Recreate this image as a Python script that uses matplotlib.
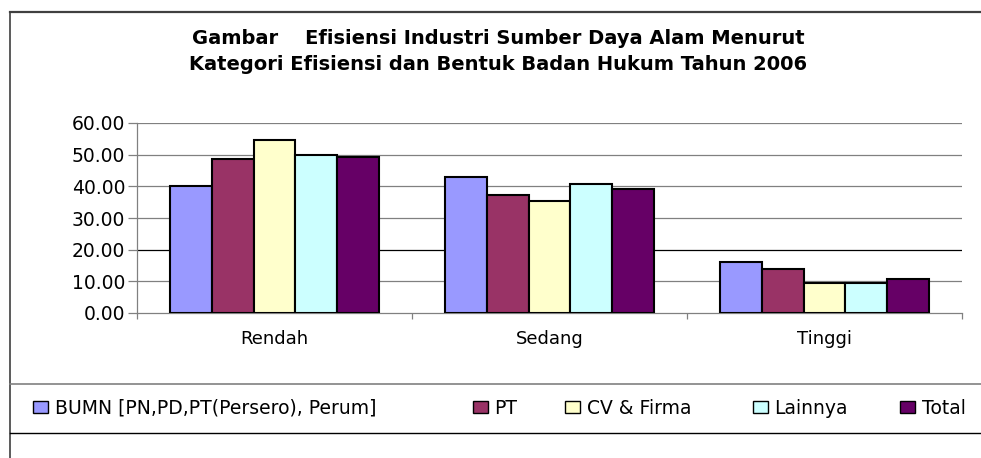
import matplotlib
matplotlib.use("Agg")
import matplotlib.pyplot as plt
from matplotlib.lines import Line2D
import numpy as np

plt.rcParams["font.family"] = ["DejaVu Sans"]

# data
categories = ["Rendah", "Sedang", "Tinggi"]
series_names = ["BUMN [PN,PD,PT(Persero), Perum]", "PT", "CV & Firma", "Lainnya", "Total"]
bumn = [40.2, 43.0, 16.2]
pt = [48.5, 37.4, 13.9]
cv_firma = [54.7, 35.5, 9.6]
lainnya = [49.9, 40.7, 9.6]
total = [49.4, 39.3, 10.8]
colors = ["#9999FF", "#993366", "#FFFFCC", "#CCFFFF", "#660066"]
y_ticks = [0, 10, 20, 30, 40, 50, 60]

W, H = 981, 458
fig = plt.figure(figsize=(W / 100, H / 100), dpi=100)
ax = fig.add_axes([137 / W, (H - 313) / H, (962 - 137) / W, (313 - 123) / H])

x = np.arange(len(categories))
bw = 0.1527
handles = []
for i, (name, vals) in enumerate(zip(series_names, [bumn, pt, cv_firma, lainnya, total])):
    b = ax.bar(x + (i - 2) * bw, vals, width=bw, color=colors[i],
               edgecolor="black", linewidth=1.5, label=name, zorder=3)
    handles.append(b)

ax.set_xlim(-0.5, 2.5)
ax.set_ylim(0, 60)
ax.set_yticks(y_ticks)
ax.set_yticklabels([f"{v:.2f}" for v in y_ticks], fontsize=13.5)
for v in y_ticks[1:]:
    ax.axhline(v, color="black" if v == 20 else "#808080", linewidth=0.9, zorder=1)

ax.set_xticks([-0.5, 0.5, 1.5, 2.5])
ax.set_xticklabels([])
ax.set_xticks(x, minor=True)
ax.set_xticklabels(categories, minor=True, fontsize=13)
ax.tick_params(axis="x", which="major", direction="out", length=4, color="#808080", width=0.9)
ax.tick_params(axis="x", which="minor", length=0, pad=12)
ax.tick_params(axis="y", direction="out", length=6.5, color="#808080", width=0.9, pad=2)

for s in ["top", "right"]:
    ax.spines[s].set_visible(False)
ax.spines["left"].set_color("#808080")
ax.spines["bottom"].set_color("#808080")
ax.spines["left"].set_linewidth(0.9)
ax.spines["bottom"].set_linewidth(0.9)

fig.text(498 / W, 1 - 38 / H, "Gambar    Efisiensi Industri Sumber Daya Alam Menurut",
         ha="center", va="center", fontsize=14, fontweight="bold")
fig.text(498 / W, 1 - 65 / H, "Kategori Efisiensi dan Bentuk Badan Hukum Tahun 2006",
         ha="center", va="center", fontsize=14, fontweight="bold")

# chart border and legend box lines
fig.add_artist(Line2D([10 / W, 1], [1 - 12 / H, 1 - 12 / H], color="#404040", linewidth=1.6))
fig.add_artist(Line2D([10 / W, 10 / W], [0, 1 - 12 / H], color="#404040", linewidth=1.2))
fig.add_artist(Line2D([10 / W, 1], [1 - 384 / H, 1 - 384 / H], color="#808080", linewidth=1.2))
fig.add_artist(Line2D([10 / W, 1], [1 - 433 / H, 1 - 433 / H], color="black", linewidth=1.0))

# one legend entry per series, placed where the reference puts them
legend_x = [33, 473, 565, 753, 900]
for h, name, lx in zip(handles, series_names, legend_x):
    leg = fig.legend(handles=[h], labels=[name], loc="center left",
                     bbox_to_anchor=(lx / W, 1 - 408 / H), frameon=False,
                     fontsize=13.5, handlelength=0.8, handleheight=0.6,
                     handletextpad=0.35, borderaxespad=0, borderpad=0)
    for p in leg.get_patches():
        p.set_linewidth(1.0)

fig.savefig("out.png", dpi=100)
